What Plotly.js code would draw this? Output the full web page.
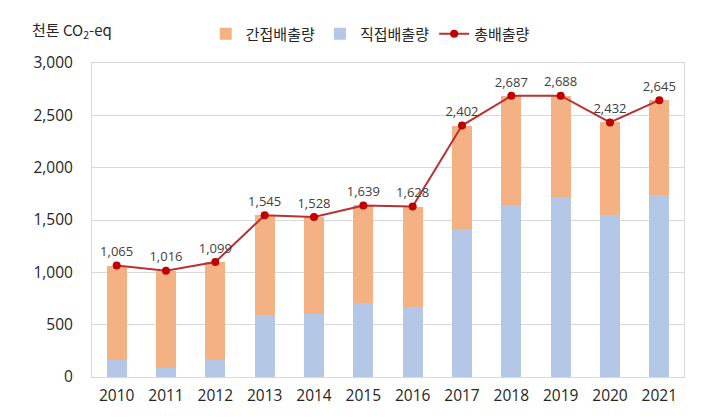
<!DOCTYPE html>
<html>
<head>
<meta charset="utf-8">
<script src="https://cdn.plot.ly/plotly-3.0.1.min.js"></script>
<style>html,body{margin:0;padding:0;background:#fff;}#chart{width:702px;height:419px;}</style>
</head>
<body>
<div id="chart"></div>
<script>
const years = ['2010','2011','2012','2013','2014','2015','2016','2017','2018','2019','2020','2021'];
const totalEmission = [1065, 1016, 1099, 1545, 1528, 1639, 1628, 2402, 2687, 2688, 2432, 2645];
const directEmission = [165, 85, 165, 595, 605, 707, 672, 1414, 1640, 1719, 1547, 1738];
const indirectEmission = totalEmission.map((t, i) => t - directEmission[i]);
const totalLabels = totalEmission.map(v => v.toLocaleString('en-US'));
const yTicks = [0, 500, 1000, 1500, 2000, 2500, 3000];
const yTickLabels = ['0', '500', '1,000', '1,500', '2,000', '2,500', '3,000'];

const FONT = '"Open Sans", "Noto Sans CJK KR", sans-serif';
const KFONT = '"Noto Sans CJK KR", "Open Sans", sans-serif';

const traces = [
  {
    type: 'bar', name: '직접배출량', x: years, y: directEmission,
    marker: {color: '#B4C7E7'}, legendrank: 2, hoverinfo: 'skip'
  },
  {
    type: 'bar', name: '간접배출량', x: years, y: indirectEmission,
    marker: {color: '#F4B183'}, legendrank: 1, hoverinfo: 'skip'
  },
  {
    type: 'scatter', mode: 'lines+markers+text', name: '총배출량', x: years, y: totalEmission,
    line: {color: '#B83232', width: 2},
    marker: {color: '#C00000', size: 8},
    text: totalLabels, textposition: 'top center',
    textfont: {family: FONT, size: 13, color: '#404040'},
    legendrank: 3, cliponaxis: false
  }
];

const layout = {
  width: 702, height: 419,
  margin: {l: 92, r: 18, t: 63, b: 42},
  paper_bgcolor: '#ffffff', plot_bgcolor: '#ffffff',
  barmode: 'stack', bargap: 0.595,
  font: {family: FONT, size: 15, color: '#262626'},
  showlegend: true,
  legend: {
    orientation: 'h', x: 0.47, xanchor: 'center', y: 1.092, yanchor: 'middle',
    font: {family: KFONT, size: 15, color: '#262626'},
    traceorder: 'normal', itemwidth: 30
  },
  xaxis: {
    type: 'category', range: [-0.5, 11.5], showgrid: false, ticks: '',
    showline: true, linecolor: '#D9D9D9', linewidth: 1, mirror: true,
    ticklabelstandoff: 4,
    tickfont: {family: FONT, size: 15.5, color: '#262626'}
  },
  yaxis: {
    range: [0, 3000], tickvals: yTicks, ticktext: yTickLabels,
    showgrid: true, gridcolor: '#D9D9D9', gridwidth: 1,
    zeroline: false, showline: true, linecolor: '#D9D9D9', linewidth: 1, mirror: true,
    ticks: '', ticklabelstandoff: 15,
    tickfont: {family: FONT, size: 15.5, color: '#262626'}
  },
  annotations: [{
    xref: 'paper', yref: 'paper', x: -0.105, y: 1.105, xanchor: 'left', yanchor: 'middle',
    text: '천톤 CO<sub>2</sub>-eq', showarrow: false,
    font: {family: KFONT, size: 15, color: '#262626'}
  }]
};

Plotly.newPlot('chart', traces, layout, {displayModeBar: false, staticPlot: true});
</script>
</body>
</html>
